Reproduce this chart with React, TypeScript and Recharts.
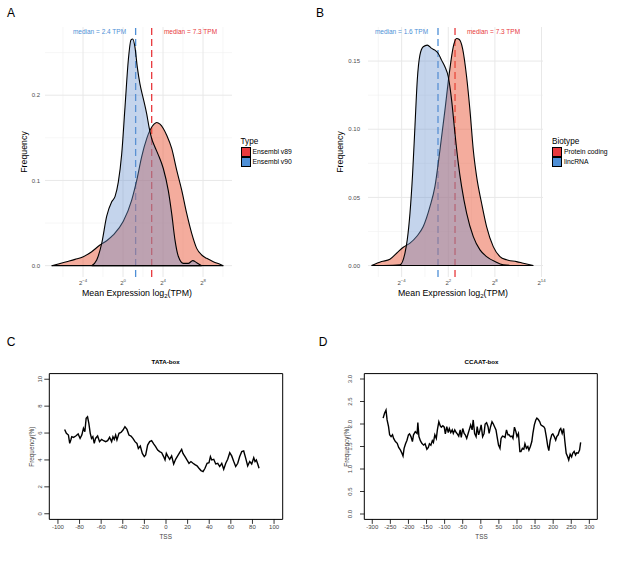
import React from "react";
import {
  ComposedChart,
  LineChart,
  Area,
  Line,
  XAxis,
  YAxis,
  ReferenceLine,
  ReferenceArea,
} from "recharts";

const FONT = "'Liberation Sans', Arial, Helvetica, sans-serif";
const RED = "#E8393D";
const BLUE = "#4E8FD6";
const RED_FILL = "#EA5A3C";
const BLUE_FILL = "#6C94D0";

// ---- Panel A: density of mean expression, x in log2(TPM)
const v89X = [-7.13, -6.47, -5.63, -4.8, -3.97, -3.13, -2.3, -1.63, -0.97, 0.03, 0.87, 1.37, 1.87, 2.37, 2.7, 3.1, 3.37, 3.7, 4.03, 4.37, 4.87, 5.37, 5.87, 6.37, 6.87, 7.37, 7.87, 8.37, 9.03, 9.7, 10.03];
const v89Y = [0, 0.002, 0.0047, 0.0074, 0.0105, 0.0164, 0.0242, 0.0293, 0.036, 0.052, 0.077, 0.1, 0.128, 0.149, 0.159, 0.166, 0.168, 0.166, 0.161, 0.153, 0.1375, 0.112, 0.0887, 0.0613, 0.0379, 0.0203, 0.0125, 0.0086, 0.0047, 0.0016, 0];
const v90X = [-3.13, -2.63, -2.13, -1.63, -1.13, -0.8, -0.47, -0.13, 0.2, 0.53, 0.8, 0.97, 1.2, 1.43, 1.7, 2.03, 2.37, 2.63, 2.87, 3.2, 3.53, 4.03, 4.53, 4.87, 5.2, 5.53, 6.03, 6.53, 6.97, 7.37, 7.87];
const v90Y = [0, 0.0066, 0.026, 0.058, 0.075, 0.081, 0.098, 0.131, 0.186, 0.241, 0.265, 0.266, 0.256, 0.233, 0.213, 0.196, 0.178, 0.161, 0.149, 0.139, 0.13, 0.114, 0.088, 0.061, 0.03, 0.011, 0.0027, 0.0027, 0.0059, 0.0035, 0];
const aMedianTPM = [7.3, 2.4]; // v89, v90
const aXTicks = [-4, 0, 4, 8];
const aXMinor = [-6, -2, 2, 6, 10];
const aYTicks = [0, 0.1, 0.2];
const aYMinor = [0.05, 0.15, 0.25];

// ---- Panel B: protein coding vs lincRNA
const pcX = [-7.87, -6.58, -5.51, -4.65, -3.79, -2.93, -2.07, -1.22, -0.36, 0.28, 0.93, 1.57, 2.13, 2.64, 3.07, 3.42, 3.85, 4.36, 4.79, 5.22, 5.65, 6.29, 6.93, 7.79, 8.65, 9.51, 10.79, 11.65, 12.94];
const pcY = [0, 0.0029, 0.0046, 0.009, 0.0134, 0.0164, 0.0213, 0.0286, 0.0432, 0.0579, 0.0848, 0.114, 0.141, 0.1605, 0.1666, 0.1658, 0.159, 0.1385, 0.114, 0.0848, 0.0652, 0.0457, 0.0286, 0.0139, 0.0066, 0.0042, 0.0029, 0.0017, 0];
const lncX = [-6.36, -4.22, -3.58, -3.28, -2.93, -2.59, -2.29, -1.99, -1.65, -1.22, -0.7, -0.14, 0.28, 0.71, 1.14, 1.57, 2.0, 2.43, 2.86, 3.29, 3.72, 4.36, 5.22, 6.08, 6.93, 8.01, 9.08, 10.37];
const lncY = [0, 0.0005, 0.009, 0.0188, 0.0383, 0.0674, 0.1018, 0.136, 0.1544, 0.1605, 0.1617, 0.1593, 0.158, 0.1556, 0.1507, 0.1458, 0.1385, 0.1214, 0.097, 0.075, 0.0579, 0.0384, 0.0212, 0.0115, 0.0066, 0.0029, 0.0005, 0];
const bMedianTPM = [7.3, 1.6]; // protein coding, lincRNA
const bXTicks = [-4, 2, 8, 14];
const bXMinor = [-7, -1, 5, 11];
const bYTicks = [0, 0.05, 0.1, 0.15];
const bYMinor = [0.025, 0.075, 0.125];

// ---- Panel C: TATA-box frequency around TSS
const tataX = [-93.8, -92.2, -90.3, -89.1, -88.1, -87.2, -85.6, -83.5, -81.3, -79.5, -77.9, -76.4, -75.1, -73.9, -72.6, -71.4, -70.1, -68.9, -67.7, -66.4, -65.2, -63.3, -61.5, -59.6, -57.7, -55.9, -54, -52.2, -50.3, -49.1, -47.9, -46.6, -45.4, -43.5, -41.7, -39.8, -38, -36.1, -34.3, -32.4, -30.6, -28.7, -26.9, -25.6, -23.8, -21.9, -20.1, -18.8, -17, -15.1, -13.3, -11.4, -9.6, -7.7, -5.9, -4, -2.2, -0.9, 0.3, 1.5, 3.4, 5.2, 7.1, 8.9, 10.8, 12.6, 14.5, 15.7, 17.6, 19.4, 21.3, 23.1, 25, 26.8, 28.7, 30.5, 32.4, 34.3, 36.1, 38, 39.8, 41.1, 42.3, 44.2, 46, 47.9, 49.7, 51.6, 53.4, 55.3, 57.1, 59, 60.8, 62.7, 64.5, 66.4, 68.2, 70.1, 71.9, 73.8, 75.6, 77.5, 79.3, 81.2, 82.4, 83.6, 84.9, 86.1];
const tataY = [6.27, 5.98, 5.85, 5.23, 5.48, 5.73, 5.68, 5.78, 5.93, 5.6, 5.85, 6.35, 6.1, 7.09, 7.21, 6.72, 5.98, 5.6, 5.73, 5.23, 5.6, 5.78, 5.36, 5.53, 5.43, 5.36, 5.43, 5.68, 5.36, 5.73, 5.53, 5.85, 5.48, 5.98, 6.05, 6.22, 6.47, 6.27, 5.85, 5.78, 5.6, 5.36, 5.23, 4.86, 5.04, 4.49, 4.25, 4.37, 5.11, 5.36, 5.43, 5.19, 4.99, 4.74, 4.62, 4.54, 4.25, 4.0, 4.49, 4.3, 4.05, 4.3, 3.7, 4.05, 4.3, 4.54, 4.79, 4.49, 4.25, 4.0, 3.75, 3.88, 3.75, 3.65, 3.56, 3.38, 3.21, 3.14, 3.38, 3.75, 3.8, 4.25, 4.0, 4.05, 3.7, 3.75, 3.51, 3.75, 3.31, 3.75, 4.05, 4.54, 4.3, 3.88, 3.51, 3.75, 4.25, 4.62, 4.67, 4.12, 3.56, 3.88, 3.7, 4.17, 3.88, 4.0, 3.7, 3.38];
const tataXTicks = [-100, -80, -60, -40, -20, 0, 20, 40, 60, 80, 100];
const tataYTicks = [0, 2, 4, 6, 8, 10];

// ---- Panel D: CCAAT-box frequency around TSS
const ccaatX = [-270, -266, -262, -259, -255, -252, -248, -244, -241, -236, -231, -227, -222, -218, -215, -212, -208, -204, -200, -197, -193, -189, -186, -181, -176, -174, -171, -167, -163, -158, -154, -149, -145, -142, -138, -134, -131, -127, -123, -120, -116, -112, -109, -105, -101, -98, -94, -90, -87, -83, -79, -76, -72, -68, -65, -61, -57, -54, -50, -46, -43, -39, -35, -32, -28, -24, -21, -17, -13, -10, -6, -2, 1, 5, 9, 12, 16, 20, 23, 27, 31, 34, 38, 42, 45, 49, 53, 56, 60, 64, 67, 71, 75, 78, 82, 86, 89, 93, 97, 100, 104, 108, 111, 115, 119, 122, 126, 130, 133, 137, 141, 144, 148, 152, 155, 159, 163, 166, 170, 174, 177, 181, 185, 188, 192, 196, 199, 203, 207, 210, 214, 218, 221, 225, 229, 232, 236, 240, 243, 247, 251, 254, 258, 262, 265, 269, 273, 276];
const ccaatY = [2.13, 2.24, 2.31, 2.09, 1.94, 1.76, 1.72, 1.76, 1.68, 1.61, 1.57, 1.48, 1.42, 1.35, 1.29, 1.46, 1.56, 1.64, 1.76, 1.78, 1.72, 1.61, 1.76, 1.83, 1.79, 2.03, 1.72, 1.63, 1.57, 1.53, 1.56, 1.44, 1.48, 1.56, 1.53, 1.63, 1.59, 1.76, 1.68, 1.87, 2.05, 1.96, 1.93, 1.96, 1.93, 1.78, 1.94, 1.81, 1.9, 1.81, 1.87, 1.79, 1.87, 1.81, 1.78, 1.73, 1.87, 1.7, 1.9, 1.79, 1.76, 1.68, 1.79, 1.87, 1.98, 1.87, 2.09, 1.79, 1.72, 1.94, 1.76, 1.87, 1.98, 1.72, 1.79, 2.0, 2.03, 1.94, 1.79, 1.94, 2.05, 2.01, 1.94, 1.87, 1.72, 1.53, 1.46, 1.68, 1.73, 1.72, 1.7, 1.87, 1.76, 1.76, 1.72, 1.73, 1.68, 1.93, 1.83, 1.72, 1.79, 1.39, 1.39, 1.46, 1.44, 1.56, 1.46, 1.5, 1.42, 1.5, 1.61, 1.79, 1.98, 2.09, 2.13, 2.1, 2.05, 1.98, 1.96, 1.94, 1.9, 1.72, 1.51, 1.41, 1.64, 1.76, 1.78, 1.72, 1.64, 1.72, 1.76, 1.87, 1.9, 1.79, 1.9, 1.64, 1.35, 1.27, 1.2, 1.33, 1.27, 1.35, 1.39, 1.31, 1.36, 1.35, 1.42, 1.59];
const ccaatXTicks = [-300, -250, -200, -150, -100, -50, 0, 50, 100, 150, 200, 250, 300];
const ccaatYTicks = [0, 0.5, 1, 1.5, 2, 2.5, 3];

const pts = (xs: number[], ys: number[]) => xs.map((x, i) => ({ x, y: ys[i] }));

// text drawn in a page-sized svg overlay, centred on (x, y)
function Label({ x, y, size, children, color = "#000", rotate = 0, weight = 400 }: any) {
  return (
    <text
      x={x}
      y={y + size * 0.35}
      textAnchor="middle"
      fontSize={size}
      fontFamily={FONT}
      fontWeight={weight}
      fill={color}
      transform={rotate ? `rotate(${rotate}, ${x}, ${y})` : undefined}
    >
      {children}
    </text>
  );
}

function PowTick({ x, y, payload }: any) {
  const e = String(payload.value).replace("-", "\u2212");
  return (
    <text x={x} y={y + 8} textAnchor="middle" fontSize={6} fill="#4d4d4d" fontFamily={FONT}>
      2<tspan dy={-2.6} fontSize={4.3}>{e}</tspan>
    </text>
  );
}

function RotTick({ x, y, payload, digits }: any) {
  return (
    <text
      x={x}
      y={y}
      transform={`rotate(-90, ${x}, ${y})`}
      textAnchor="middle"
      fontSize={6}
      fill="#444"
      fontFamily={FONT}
    >
      {payload.value.toFixed(digits)}
    </text>
  );
}

function DensityPanel({ cfg }: any) {
  return (
    <ComposedChart
      width={cfg.width}
      height={300}
      margin={{ top: 27, right: cfg.right, bottom: 0, left: 0 }}
    >
      <XAxis
        type="number"
        dataKey="x"
        domain={cfg.xDomain}
        ticks={cfg.xTicks}
        interval={0}
        allowDataOverflow
        axisLine={false}
        tickLine={false}
        tickSize={0}
        tickMargin={0}
        height={23}
        tick={<PowTick />}
      />
      <YAxis
        type="number"
        domain={cfg.yDomain}
        ticks={cfg.yTicks}
        interval={0}
        allowDataOverflow
        axisLine={false}
        tickLine={false}
        tickSize={0}
        tickMargin={cfg.yGap}
        width={cfg.yWidth}
        tickFormatter={(v: number) => v.toFixed(cfg.digits)}
        tick={{ fontSize: 6, fill: "#4d4d4d", fontFamily: FONT }}
      />
      {cfg.xMinor.map((v: number) => (
        <ReferenceLine key={`xm${v}`} x={v} stroke="#F0F0F0" strokeWidth={0.6} zIndex={-100} />
      ))}
      {cfg.yMinor.map((v: number) => (
        <ReferenceLine key={`ym${v}`} y={v} stroke="#F0F0F0" strokeWidth={0.6} zIndex={-100} />
      ))}
      {cfg.xTicks.map((v: number) => (
        <ReferenceLine key={`xM${v}`} x={v} stroke="#E8E8E8" strokeWidth={1} zIndex={-100} />
      ))}
      {cfg.yTicks.map((v: number) => (
        <ReferenceLine key={`yM${v}`} y={v} stroke="#E8E8E8" strokeWidth={1} zIndex={-100} />
      ))}
      {cfg.series.map((s: any) => (
        <ReferenceLine
          key={`med${s.name}`}
          x={Math.log2(s.median)}
          stroke={s.color}
          strokeWidth={1.3}
          strokeDasharray="7 4"
          zIndex={-50}
        />
      ))}
      {cfg.series.map((s: any) => (
        <Area
          key={s.name}
          name={s.name}
          data={s.data}
          dataKey="y"
          type="monotone"
          fill={s.fill}
          fillOpacity={s.alpha}
          stroke="#000"
          strokeWidth={1.1}
          activeDot={false}
          isAnimationActive={false}
        />
      ))}
      {cfg.series.map((s: any) => (
        <ReferenceLine
          key={`base${s.name}`}
          segment={[
            { x: s.data[0].x, y: 0 },
            { x: s.data[s.data.length - 1].x, y: 0 },
          ]}
          stroke="#000"
          strokeWidth={1.1}
        />
      ))}
    </ComposedChart>
  );
}

const panelA = {
  width: 310,
  right: 78,
  yWidth: 45,
  yGap: 5,
  digits: 1,
  xDomain: [-7.8, 10.9],
  yDomain: [-0.0133, 0.28],
  xTicks: aXTicks,
  xMinor: aXMinor,
  yTicks: aYTicks,
  yMinor: aYMinor,
  series: [
    { name: "Ensembl v89", color: RED, fill: RED_FILL, alpha: 0.5, median: aMedianTPM[0], data: pts(v89X, v89Y) },
    { name: "Ensembl v90", color: BLUE, fill: BLUE_FILL, alpha: 0.4, median: aMedianTPM[1], data: pts(v90X, v90Y) },
  ],
};

const panelB = {
  width: 310,
  right: 67,
  yWidth: 68,
  yGap: 8,
  digits: 2,
  xDomain: [-8.33, 14.19],
  yDomain: [-0.0084, 0.175],
  xTicks: bXTicks,
  xMinor: bXMinor,
  yTicks: bYTicks,
  yMinor: bYMinor,
  series: [
    { name: "Protein coding", color: RED, fill: RED_FILL, alpha: 0.5, median: bMedianTPM[0], data: pts(pcX, pcY) },
    { name: "lincRNA", color: BLUE, fill: BLUE_FILL, alpha: 0.4, median: bMedianTPM[1], data: pts(lncX, lncY) },
  ],
};

function MotifPanel({ cfg }: any) {
  return (
    <LineChart
      width={cfg.width}
      height={220}
      data={cfg.data}
      margin={{ top: 43.6, right: cfg.right, bottom: 10.6, left: 0 }}
    >
      <XAxis
        type="number"
        dataKey="x"
        domain={cfg.xDomain}
        ticks={cfg.xTicks}
        interval={0}
        allowDataOverflow
        axisLine={false}
        tickSize={4.5}
        tickMargin={1}
        tickLine={{ stroke: "#000", strokeWidth: 0.8 }}
        height={20}
        tick={{ fontSize: 6, fill: "#444", fontFamily: FONT }}
      />
      <YAxis
        type="number"
        domain={cfg.yDomain}
        ticks={cfg.yTicks}
        interval={0}
        allowDataOverflow
        axisLine={false}
        tickSize={cfg.yTick}
        tickMargin={cfg.yGap}
        tickLine={{ stroke: "#000", strokeWidth: 0.8 }}
        width={cfg.yWidth}
        tick={<RotTick digits={cfg.digits} />}
      />
      <ReferenceArea
        x1={cfg.xDomain[0]}
        x2={cfg.xDomain[1]}
        y1={cfg.yDomain[0]}
        y2={cfg.yDomain[1]}
        fill="none"
        stroke="#000"
        strokeWidth={1}
      />
      <Line
        dataKey="y"
        type="linear"
        stroke="#000"
        strokeWidth={1.4}
        dot={false}
        activeDot={false}
        isAnimationActive={false}
      />
    </LineChart>
  );
}

const panelC = {
  width: 300,
  right: 17.3,
  yWidth: 49.3,
  yTick: 5,
  yGap: 2.2,
  digits: 0,
  xDomain: [-108, 108],
  yDomain: [-0.42, 10.42],
  xTicks: tataXTicks,
  yTicks: tataYTicks,
  data: pts(tataX, tataY),
};

const panelD = {
  width: 310,
  right: 12.7,
  yWidth: 64.3,
  yTick: 4.3,
  yGap: 7.7,
  digits: 1,
  xDomain: [-322, 322],
  yDomain: [-0.12, 3.12],
  xTicks: ccaatXTicks,
  yTicks: ccaatYTicks,
  data: pts(ccaatX, ccaatY),
};

function LegendBox({ x, y, title, items }: any) {
  return (
    <div style={{ position: "absolute", left: x, top: y, fontFamily: FONT }}>
      <div style={{ fontSize: 8.2, lineHeight: "10px", color: "#000" }}>{title}</div>
      {items.map((it: any) => (
        <div key={it.name} style={{ display: "flex", alignItems: "center", height: 10 }}>
          <div
            style={{
              width: 8,
              height: 8,
              background: it.color,
              border: "1px solid #000",
              marginRight: 2,
            }}
          />
          <span style={{ fontSize: 6.8, color: "#000", lineHeight: 1 }}>{it.name}</span>
        </div>
      ))}
    </div>
  );
}

function XTitle({ x, y }: any) {
  return (
    <text x={x} y={y + 3} textAnchor="middle" fontSize={8.8} fontFamily={FONT} fill="#000">
      Mean Expression log
      <tspan dy={2} fontSize={6}>2</tspan>
      <tspan dy={-2}>(TPM)</tspan>
    </text>
  );
}

export default function App() {
  return (
    <div style={{ position: "absolute", left: 0, top: 0, width: 617, height: 565, background: "#fff", overflow: "hidden" }}>
      <div style={{ position: "absolute", left: 0, top: 0 }}>
        <DensityPanel cfg={panelA} />
      </div>
      <div style={{ position: "absolute", left: 300, top: 0 }}>
        <DensityPanel cfg={panelB} />
      </div>
      <div style={{ position: "absolute", left: 0, top: 330 }}>
        <MotifPanel cfg={panelC} />
      </div>
      <div style={{ position: "absolute", left: 300, top: 330 }}>
        <MotifPanel cfg={panelD} />
      </div>

      <svg
        width={617}
        height={565}
        style={{ position: "absolute", left: 0, top: 0, pointerEvents: "none" }}
      >
        {/* panel letters */}
        <Label x={11} y={13} size={12}>A</Label>
        <Label x={320} y={13} size={12}>B</Label>
        <Label x={11} y={342} size={12}>C</Label>
        <Label x={323} y={342} size={12}>D</Label>

        {/* A */}
        <Label x={99.5} y={32} size={6.5} color={BLUE}>{`median = ${aMedianTPM[1]} TPM`}</Label>
        <Label x={190.5} y={32} size={6.5} color={RED}>{`median = ${aMedianTPM[0]} TPM`}</Label>
        <Label x={24} y={152} size={8.8} rotate={-90}>Frequency</Label>
        <XTitle x={137} y={292.5} />

        {/* B */}
        <Label x={401.5} y={31.5} size={6.5} color={BLUE}>{`median = ${bMedianTPM[1]} TPM`}</Label>
        <Label x={493.5} y={31.5} size={6.5} color={RED}>{`median = ${bMedianTPM[0]} TPM`}</Label>
        <Label x={340} y={152} size={8.8} rotate={-90}>Frequency</Label>
        <XTitle x={453} y={292.5} />

        {/* C */}
        <Label x={165.7} y={362.3} size={6.2} weight={700}>TATA-box</Label>
        <Label x={31.7} y={446.7} size={6.4} rotate={-90} color="#444">Frequency(%)</Label>
        <Label x={165.7} y={536.7} size={6.4} color="#444">TSS</Label>

        {/* D */}
        <Label x={481.5} y={362.3} size={6.2} weight={700}>CCAAT-box</Label>
        <Label x={346.7} y={446.7} size={6.4} rotate={-90} color="#444">Frequency(%)</Label>
        <Label x={481.5} y={536.7} size={6.4} color="#444">TSS</Label>
      </svg>

      <LegendBox
        x={240.5}
        y={137}
        title="Type"
        items={panelA.series.map((s) => ({ name: s.name, color: s.color }))}
      />
      <LegendBox
        x={552}
        y={137}
        title="Biotype"
        items={panelB.series.map((s) => ({ name: s.name, color: s.color }))}
      />
    </div>
  );
}
